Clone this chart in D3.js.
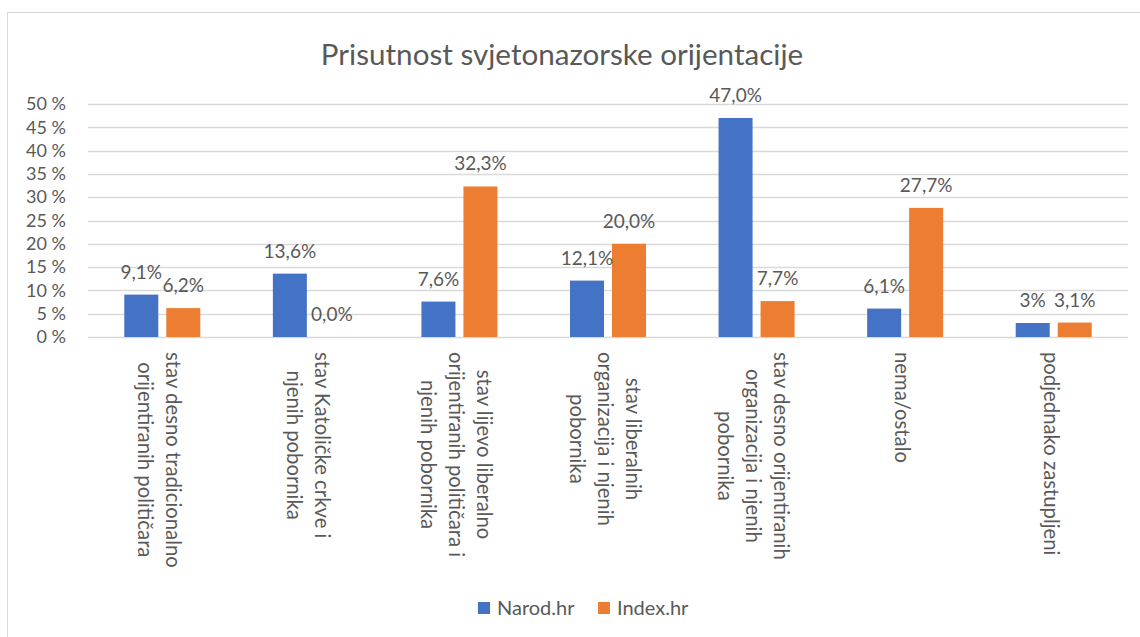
<!DOCTYPE html>
<html>
<head>
<meta charset="utf-8">
<script src="https://d3js.org/d3.v7.min.js"></script>
<style>
  body { margin: 0; background: #fff; }
  svg text { font-family: Lato, "Open Sans", sans-serif; fill: #595959; }
</style>
</head>
<body>
<svg id="chart" width="1140" height="637"></svg>
<script>
// categories, each split into the lines shown under the axis
var categories = [
  ["stav desno tradicionalno", "orijentiranih političara"],
  ["stav Katoličke crkve i", "njenih pobornika"],
  ["stav lijevo liberalno", "orijentiranih političara i", "njenih pobornika"],
  ["stav liberalnih", "organizacija i njenih", "pobornika"],
  ["stav desno orijentiranih", "organizacija i njenih", "pobornika"],
  ["nema/ostalo"],
  ["podjednako zastupljeni"]
];
var series = ["Narod.hr", "Index.hr"];
var narod = [9.1, 13.6, 7.6, 12.1, 47.0, 6.1, 3];
var index = [6.2, 0.0, 32.3, 20.0, 7.7, 27.7, 3.1];
var narodLabels = ["9,1%", "13,6%", "7,6%", "12,1%", "47,0%", "6,1%", "3%"];
var indexLabels = ["6,2%", "0,0%", "32,3%", "20,0%", "7,7%", "27,7%", "3,1%"];
var yTicks = [0, 5, 10, 15, 20, 25, 30, 35, 40, 45, 50];
var colors = ["#4472C4", "#ED7D31"];

var svg = d3.select("#chart");

// outer border (right and bottom edges fall outside the picture)
svg.append("rect")
  .attr("x", 7.5).attr("y", 12.5)
  .attr("width", 1140).attr("height", 637)
  .attr("fill", "none").attr("stroke", "#D9D9D9");

var x0 = d3.scaleBand().domain(d3.range(categories.length)).range([88, 1128]);
var x1 = d3.scaleBand().domain(series).range([-38, 38]).paddingInner(8 / 42);
var y = d3.scaleLinear().domain([0, 50]).range([337, 104]);

// gridlines
svg.append("g")
  .selectAll("line").data(yTicks)
  .enter().append("line")
    .attr("x1", 88).attr("x2", 1128)
    .attr("y1", function(d) { return Math.round(y(d)) + 0.5; })
    .attr("y2", function(d) { return Math.round(y(d)) + 0.5; })
    .attr("stroke", "#D9D9D9").attr("stroke-width", 1.3);

// y axis labels
var yAxis = svg.append("g")
  .attr("transform", "translate(66,0)")
  .call(d3.axisLeft(y).tickValues(yTicks).tickSize(0).tickPadding(0)
    .tickFormat(function(d) { return d + " %"; }));
yAxis.select(".domain").remove();
yAxis.selectAll("text")
  .style("font-size", "18px")
  .style("font-family", "Lato, sans-serif")
  .attr("fill", "#595959");

// bars
var rows = categories.map(function(c, i) {
  return { i: i, vals: [narod[i], index[i]], labels: [narodLabels[i], indexLabels[i]] };
});

var groups = svg.append("g").selectAll("g").data(rows)
  .enter().append("g")
    .attr("transform", function(d) { return "translate(" + (x0(d.i) + x0.bandwidth() / 2) + ",0)"; });

groups.selectAll("rect")
  .data(function(d) { return series.map(function(s, k) { return { s: s, k: k, v: d.vals[k] }; }); })
  .enter().append("rect")
    .attr("x", function(d) { return x1(d.s); })
    .attr("width", x1.bandwidth())
    .attr("y", function(d) { return y(d.v); })
    .attr("height", function(d) { return y(0) - y(d.v); })
    .attr("fill", function(d) { return colors[d.k]; });

groups.selectAll("text.val")
  .data(function(d) { return series.map(function(s, k) { return { s: s, v: d.vals[k], t: d.labels[k] }; }); })
  .enter().append("text")
    .attr("class", "val")
    .attr("x", function(d) { return x1(d.s) + x1.bandwidth() / 2; })
    .attr("y", function(d) { return y(d.v) - 16; })
    .attr("text-anchor", "middle")
    .style("font-size", "19px")
    .text(function(d) { return d.t; });

// rotated category labels
var labelTop = 352, lineH = 28;
groups.each(function(d) {
  var g = d3.select(this).append("g")
    .attr("transform", "translate(-3," + labelTop + ") rotate(90)");
  var lines = categories[d.i];
  var n = lines.length;
  var texts = g.selectAll("text").data(lines).enter().append("text")
    .attr("y", function(l, j) { return (j - (n - 1) / 2) * lineH; })
    .attr("dy", "0.35em")
    .attr("text-anchor", "middle")
    .style("font-size", "20.3px")
    .text(function(l) { return l; });
  var maxLen = 0;
  texts.each(function() { maxLen = Math.max(maxLen, this.getComputedTextLength()); });
  texts.attr("x", maxLen / 2);
});

// title
svg.append("text")
  .attr("x", 562).attr("y", 65)
  .attr("text-anchor", "middle")
  .style("font-size", "29.6px")
  .text("Prisutnost svjetonazorske orijentacije");

// legend
var legendX = [478, 598];
var legend = svg.append("g").selectAll("g").data(series)
  .enter().append("g")
    .attr("transform", function(d, k) { return "translate(" + legendX[k] + ",602)"; });
legend.append("rect")
  .attr("width", 12).attr("height", 12)
  .attr("fill", function(d, k) { return colors[k]; });
legend.append("text")
  .attr("x", 19).attr("y", 13)
  .style("font-size", "20px")
  .text(function(d) { return d; });
</script>
</body>
</html>
